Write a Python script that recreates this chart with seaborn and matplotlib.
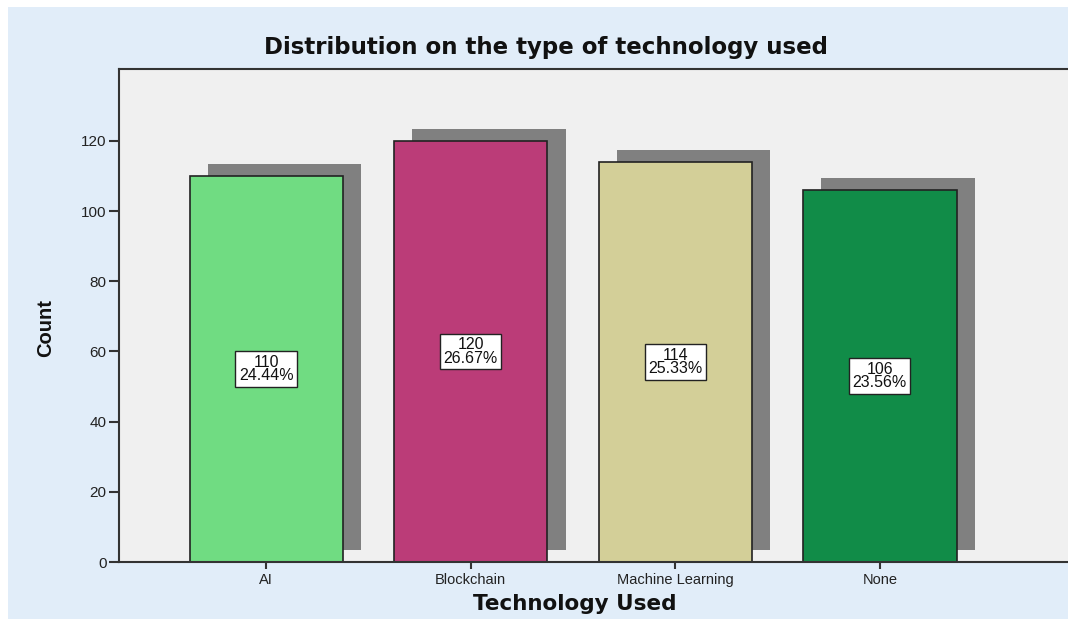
import matplotlib
matplotlib.use("Agg")
import matplotlib.pyplot as plt
import matplotlib.patheffects as pe
from matplotlib.patches import Rectangle
import seaborn as sns
import pandas as pd

categories = ["AI", "Blockchain", "Machine Learning", "None"]
counts = [110, 120, 114, 106]
percents = ["24.44%", "26.67%", "25.33%", "23.56%"]
colors = ["#70DC82", "#BB3C78", "#D3CF98", "#118C48"]

df = pd.DataFrame({"Technology Used": categories, "Count": counts})

sns.set_theme(style="white")
plt.rcParams["font.family"] = ["Liberation Sans", "DejaVu Sans"]
plt.rcParams["text.color"] = "#111111"
plt.rcParams["axes.labelcolor"] = "#111111"
plt.rcParams["xtick.color"] = "#222222"
plt.rcParams["ytick.color"] = "#222222"

fig = plt.figure(figsize=(10.68, 6.19), dpi=100, facecolor="white")
# light blue chart frame
fig.patches.append(Rectangle((8 / 1068, 0), 1 - 8 / 1068, 1 - 7 / 619,
                             transform=fig.transFigure, facecolor="#E1EDF9",
                             edgecolor="none", zorder=-10))
ax = fig.add_axes([119 / 1068, 57 / 619, (1068 - 119) / 1068, (562 - 69) / 619])
ax.set_facecolor("#F0F0F0")

sns.barplot(data=df, x="Technology Used", y="Count", hue="Technology Used",
            palette=colors, order=categories, hue_order=categories,
            saturation=1, width=0.75, edgecolor="#222222", linewidth=1.2,
            legend=False, ax=ax)

# drop shadow behind each bar, shifted up and to the right
for patch in ax.patches:
    patch.set_path_effects([
        pe.SimplePatchShadow(offset=(13, 8.6), shadow_rgbFace="#808080", alpha=1.0),
        pe.Normal(),
    ])

for i, (c, p) in enumerate(zip(counts, percents)):
    ax.text(i, c / 2, f"{c}\n{p}", ha="center", va="center", fontsize=11.5,
            linespacing=0.85, color="#111111",
            bbox=dict(boxstyle="square,pad=0.22", facecolor="white",
                      edgecolor="#222222", linewidth=1.0))

ax.set_ylim(0, 140.5)
ax.set_xlim(-0.72, 3.92)
ax.set_yticks([0, 20, 40, 60, 80, 100, 120])
ax.tick_params(axis="y", direction="out", length=7, width=1.5, color="#333333",
               labelsize=11, pad=2, left=True)
ax.tick_params(axis="x", direction="out", length=5, width=1.5, color="#333333",
               labelsize=10.5, pad=3, bottom=True)
for side in ["left", "bottom", "top"]:
    ax.spines[side].set_color("#333333")
    ax.spines[side].set_linewidth(1.5)
ax.spines["right"].set_visible(False)

ax.set_xlabel("Technology Used", fontsize=15.5, fontweight="bold", labelpad=5,
              family="DejaVu Sans")
ax.xaxis.set_label_coords(0.48, -0.065)
ax.set_ylabel("Count", fontsize=14.5, fontweight="bold")
ax.yaxis.set_label_coords(-0.067, 0.475)
ax.set_title("Distribution on the type of technology used", fontsize=16.5,
             fontweight="bold", pad=11, x=0.45, family="DejaVu Sans")

fig.savefig("out.png", dpi=100, facecolor=fig.get_facecolor())
